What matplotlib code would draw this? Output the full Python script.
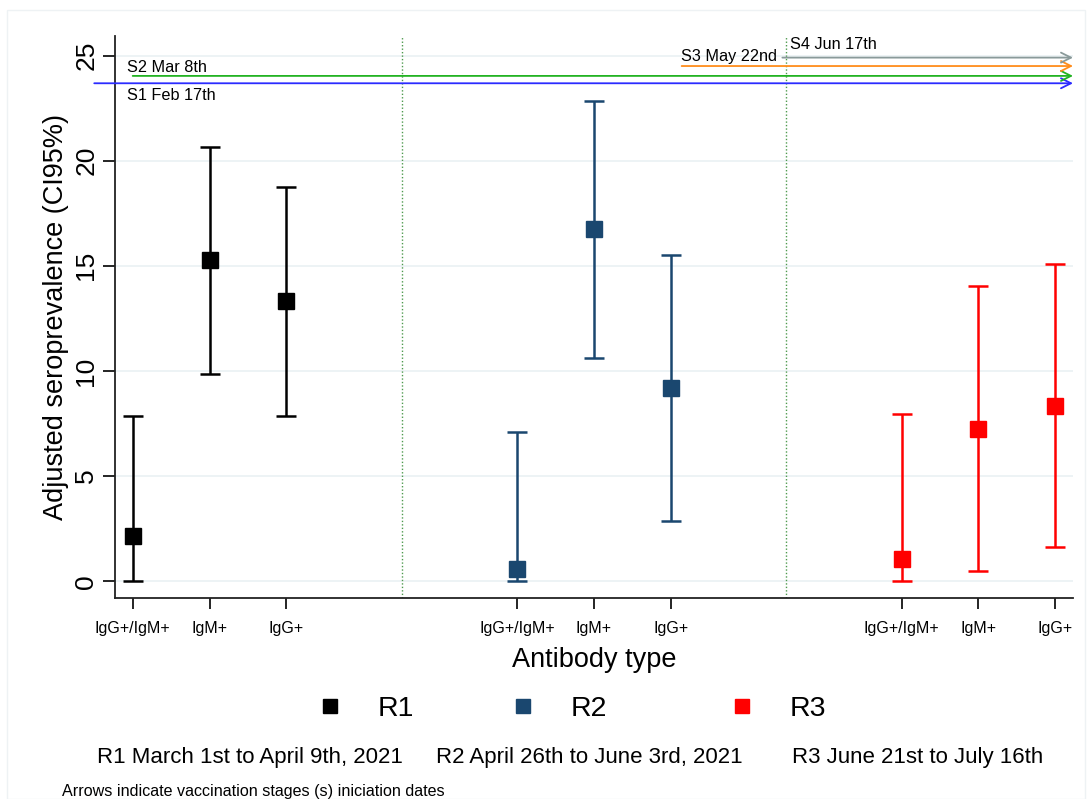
import numpy as np
import matplotlib.pyplot as plt
from matplotlib.lines import Line2D
from matplotlib.patches import Rectangle

plt.rcParams['font.family'] = ['Liberation Sans', 'DejaVu Sans']

# antibody types and positions of each round along the x axis
types = ['IgG+/IgM+', 'IgM+', 'IgG+']
pos_r1 = [1, 2, 3]
pos_r2 = [6, 7, 8]
pos_r3 = [11, 12, 13]

# adjusted seroprevalence and 95% CI
r1_est = [2.15, 15.26, 13.31]
r1_lo = [0.0, 9.87, 7.88]
r1_hi = [7.84, 20.65, 18.73]

r2_est = [0.58, 16.74, 9.21]
r2_lo = [0.0, 10.62, 2.88]
r2_hi = [7.11, 22.82, 15.53]

r3_est = [1.08, 7.26, 8.35]
r3_lo = [0.0, 0.49, 1.65]
r3_hi = [7.97, 14.03, 15.10]

rounds = ['R1', 'R2', 'R3']
round_desc = ['R1 March 1st to April 9th, 2021',
              'R2 April 26th to June 3rd, 2021',
              'R3 June 21st to July 16th']
colors = ['black', '#1a476f', '#ff0000']

# vaccination stage arrows: label, start x, y level
stages = ['S1 Feb 17th', 'S2 Mar 8th', 'S3 May 22nd', 'S4 Jun 17th']
stage_start = [0.5, 1.0, 8.14, 9.45]
stage_y = [23.68, 24.03, 24.5, 24.9]
stage_col = ['#2b2bff', '#22b322', '#ff8c1a', '#8a9a9a']

separators = [4.5, 9.5]

fig = plt.figure(figsize=(10.89, 7.99), dpi=100)
fig.patches.append(Rectangle((0.006, 0.0), 0.99, 0.987, transform=fig.transFigure,
                             fill=False, edgecolor='#eef2f4', lw=1.0))
ax = fig.add_axes([0.1056, 0.252, 0.8797, 0.703])

for p, est, lo, hi, c in [(pos_r1, r1_est, r1_lo, r1_hi, colors[0]),
                          (pos_r2, r2_est, r2_lo, r2_hi, colors[1]),
                          (pos_r3, r3_est, r3_lo, r3_hi, colors[2])]:
    est = np.array(est)
    yerr = [est - np.array(lo), np.array(hi) - est]
    ax.errorbar(p, est, yerr=yerr, fmt='s', color=c, ms=11, lw=1.8,
                capsize=7, capthick=1.8, zorder=3)

for s in separators:
    ax.axvline(s, color='#4e9a4e', ls=(0, (1, 1.5)), lw=1.0, zorder=1)

xmin, xmax = 0.77, 13.23
for lab, x0, y, c in zip(stages, stage_start, stage_y, stage_col):
    ax.annotate('', xy=(xmax, y), xytext=(x0, y), annotation_clip=False,
                arrowprops=dict(arrowstyle='->', color=c, lw=1.3,
                                mutation_scale=18, shrinkA=0, shrinkB=0))

ax.text(0.93, 24.45, stages[1], fontsize=11.7, va='center', ha='left')
ax.text(0.93, 23.1, stages[0], fontsize=11.7, va='center', ha='left')
ax.text(9.38, 24.95, stages[2], fontsize=11.7, va='center', ha='right')
ax.text(9.55, 25.5, stages[3], fontsize=11.7, va='center', ha='left')

ax.set_xlim(xmin, xmax)
ax.set_ylim(-0.78, 25.93)
ax.set_xticks(pos_r1 + pos_r2 + pos_r3)
ax.set_xticklabels(types * 3, fontsize=11.5)
ax.set_yticks(np.arange(0, 26, 5))
ax.tick_params(axis='y', labelsize=19, length=9, width=1.2, labelrotation=90, pad=3)
ax.tick_params(axis='x', length=8, width=1.2, pad=9)
for t in ax.get_yticklabels():
    t.set_va('center')
ax.grid(axis='y', color='#eaf1f3', lw=1.2, zorder=0)
ax.set_axisbelow(True)
for side in ['top', 'right']:
    ax.spines[side].set_visible(False)
for side in ['left', 'bottom']:
    ax.spines[side].set_linewidth(1.3)
    ax.spines[side].set_color('#222222')

ax.set_ylabel('Adjusted seroprevalence (CI95%)', fontsize=19.5, labelpad=4)
ax.set_xlabel('Antibody type', fontsize=19.5, labelpad=8)

# legend entries placed one by one (uneven column spacing in the original)
leg_left = [315.8, 508.8, 727.8]
for xl, lab, c in zip(leg_left, rounds, colors):
    h = Line2D([], [], ls='none', marker='s', ms=10, color=c)
    leg = fig.legend([h], [lab], loc='center left', bbox_to_anchor=(xl / 1089, 0.1126),
                     frameon=False, fontsize=20.5, handlelength=1.0, handletextpad=1.18,
                     borderpad=0, borderaxespad=0)

desc_x = [0.089, 0.4, 0.727]
for x, d in zip(desc_x, round_desc):
    fig.text(x, 0.052, d, fontsize=16, ha='left', va='center')

fig.text(0.057, 0.010, 'Arrows indicate vaccination stages (s) iniciation dates',
         fontsize=11.6, ha='left', va='center')

fig.savefig('out.png', dpi=100)
